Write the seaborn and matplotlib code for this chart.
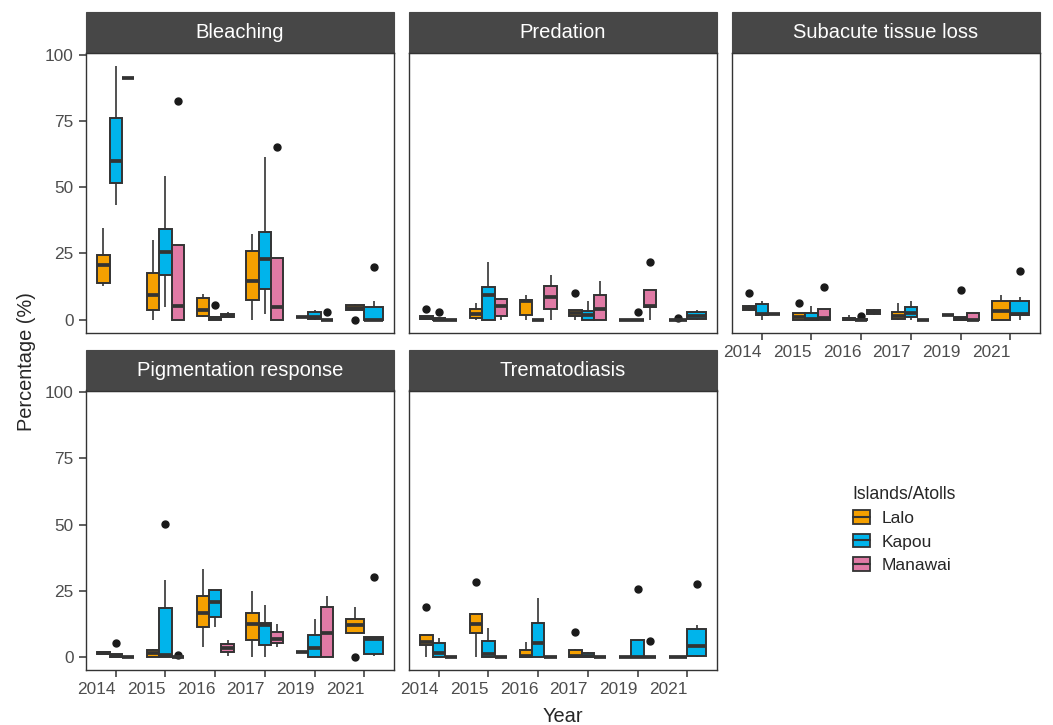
import numpy as np
import pandas as pd
import matplotlib
matplotlib.use('Agg')
import matplotlib.pyplot as plt
import seaborn as sns
from matplotlib.patches import Rectangle, Patch
from matplotlib.lines import Line2D


# Data: (whisker low, Q1, median, Q3, whisker high, outlier)
years = ['2014', '2015', '2016', '2017', '2019', '2021']
islands = ['Lalo', 'Kapou', 'Manawai']
colors = ['#F5A000', '#00B4EB', '#E07AA5']
facets = ['Bleaching', 'Predation', 'Subacute tissue loss',
          'Pigmentation response', 'Trematodiasis']

bleaching = {
    '2014': [(12.9, 13.7, 20.6, 24.6, 34.7, None), (43.3, 51.6, 60.0, 76.2, 95.8, None), (91.3, 91.3, 91.3, 91.3, 91.3, None)],
    '2015': [(0, 3.7, 9.5, 17.8, 30.0, None), (4.7, 16.9, 25.5, 34.1, 54.2, None), (0, 0, 5.3, 28.1, 28.1, 82.5)],
    '2016': [(1.2, 1.6, 3.5, 8.2, 9.7, None), (0, 0, 0.5, 1.2, 1.2, 5.7), (0.8, 1.0, 1.5, 2.2, 3.0, None)],
    '2017': [(0, 7.3, 14.7, 26.0, 32.5, None), (2.0, 11.7, 22.8, 33.2, 61.4, None), (0, 0, 5.0, 23.3, 23.3, 65.2)],
    '2019': [(1.0, 1.0, 1.0, 1.0, 1.0, None), (0, 0.3, 1.2, 3.0, 3.8, None), (0, 0, 0, 0, 0, 2.9)],
    '2021': [(3.8, 3.8, 4.6, 5.5, 6.0, 0.0), (0, 0, 0, 4.7, 7.0, 20.0)],
}
predation = {
    '2014': [(0, 0.3, 0.8, 1.5, 1.5, 4.2), (0, 0, 0, 0.5, 0.5, 3.1), (0, 0, 0, 0, 0, None)],
    '2015': [(0, 0.5, 2.2, 4.1, 6.2, None), (0, 0, 9.2, 12.4, 21.9, None), (0, 1.6, 5.3, 7.8, 8.3, None)],
    '2016': [(0, 1.7, 6.9, 7.4, 9.5, None), (0, 0, 0, 0, 0, None), (0, 4.2, 8.7, 12.8, 16.7, None)],
    '2017': [(0, 1.6, 2.7, 3.5, 3.5, 10.1), (0, 0, 1.7, 3.2, 7.0, None), (0, 0, 4.1, 9.5, 14.8, None)],
    '2019': [(0, 0, 0, 0, 0, None), (0, 0, 0, 0, 0, 3.1), (0, 4.7, 5.3, 11.2, 11.2, 21.8)],
    '2021': [(0, 0, 0, 0, 0, 0.8), (0, 0.3, 1.5, 2.8, 3.8, None)],
}
subacute = {
    '2014': [(3.2, 3.6, 4.4, 5.2, 5.7, 10.1), (0, 1.7, 2.0, 6.1, 7.0, None), (2.0, 2.0, 2.0, 2.0, 2.0, None)],
    '2015': [(0, 0, 1.2, 2.4, 2.4, 6.5), (0, 0, 0.3, 2.5, 5.1, None), (0, 0, 0.8, 4.2, 4.2, 12.4)],
    '2016': [(0, 0, 0.3, 0.8, 1.8, None), (0, 0, 0, 0.3, 0.3, 1.4), (1.8, 2.2, 3.0, 3.8, 4.2, None)],
    '2017': [(0, 0.3, 1.6, 3.0, 6.5, None), (0, 1.1, 2.4, 4.9, 7.0, None), (0, 0, 0, 0, 0, None)],
    '2019': [(1.7, 1.7, 1.7, 1.7, 1.7, None), (0, 0, 0.3, 1.0, 1.0, 11.3), (0, 0, 0, 2.7, 2.7, None)],
    '2021': [(0, 0, 3.4, 7.0, 9.2, None), (0, 1.8, 2.2, 7.0, 8.7, 18.4)],
}
pigmentation = {
    '2014': [(0.8, 1.3, 1.6, 2.0, 2.2, None), (0, 0, 0.3, 1.2, 1.2, 5.3), (0, 0, 0, 0, 0, None)],
    '2015': [(0, 0, 1.5, 2.8, 3.0, None), (0, 0, 1.0, 18.5, 29.2, 50.1), (0, 0, 0, 0, 0, 1.0)],
    '2016': [(4.0, 11.4, 16.8, 23.0, 33.3, None), (11.4, 15.2, 20.9, 25.2, 25.2, None), (0.4, 1.9, 3.5, 5.1, 6.6, None)],
    '2017': [(0, 6.5, 12.4, 16.8, 24.9, None), (0, 4.6, 12.0, 12.8, 19.9, None), (4.0, 5.2, 6.8, 9.7, 12.4, None)],
    '2019': [(1.9, 1.9, 1.9, 1.9, 1.9, None), (0, 0, 3.5, 8.5, 14.3, None), (0, 0, 9.1, 18.9, 23.0, None)],
    '2021': [(9.0, 9.0, 12.0, 14.3, 18.9, 0.0), (0.3, 1.2, 6.8, 7.8, 7.8, 30.1)],
}
trematodiasis = {
    '2014': [(0, 4.7, 5.6, 8.5, 8.5, 19.1), (0, 0, 1.6, 5.2, 7.3, None), (0, 0, 0, 0, 0, None)],
    '2015': [(0, 9.0, 12.7, 16.5, 16.5, 28.4), (0, 0, 1.2, 6.1, 11.2, None), (0, 0, 0, 0, 0, None)],
    '2016': [(0, 0, 0.3, 2.7, 5.6, None), (0, 0, 5.2, 13.1, 22.4, None), (0, 0, 0, 0, 0, None)],
    '2017': [(0, 0, 0.3, 2.7, 3.2, 9.4), (0, 0, 0.3, 1.5, 2.0, None), (0, 0, 0, 0, 0, None)],
    '2019': [(0, 0, 0, 0, 0, None), (0, 0, 0, 6.6, 6.6, 25.9), (0, 0, 0, 0, 0, 6.2)],
    '2021': [(0, 0, 0, 0, 0, None), (0, 0.6, 4.2, 10.6, 12.1, 27.6)],
}
facet_data = [bleaching, predation, subacute, pigmentation, trematodiasis]


# turn each five-number summary into 9 observations with the same box stats
def to_obs(lo, q1, med, q3, hi, out):
    low = [out, lo] if out is not None and out < q1 else [lo, (lo + q1) / 2]
    high = [hi, out] if out is not None and out > q3 else [(q3 + hi) / 2, hi]
    return low + [q1, (q1 + med) / 2, med, (med + q3) / 2, q3] + high


rows = []
for name, table in zip(facets, facet_data):
    for yr in years:
        for isl, st in zip(islands, table[yr]):
            for v in to_obs(*st):
                rows.append((name, yr, isl, v))
df = pd.DataFrame(rows, columns=['facet', 'Year', 'Island', 'value'])


sns.set_style('white')
plt.rcParams['font.family'] = 'Liberation Sans'

edge = '#333333'
box_kw = dict(x='Year', y='value', hue='Island', order=years, palette=colors,
              width=0.75, gap=0, dodge=True, saturation=1, linecolor=edge,
              linewidth=1.4, fliersize=5, legend=False, showcaps=False,
              medianprops=dict(linewidth=2.7, color=edge),
              whiskerprops=dict(linewidth=1.2, color=edge),
              flierprops=dict(marker='o', markerfacecolor='#1a1a1a',
                              markeredgecolor='#1a1a1a'))

fig, axes = plt.subplots(2, 3, figsize=(10.53, 7.25), dpi=100)
fig.subplots_adjust(left=86/1053, right=1040/1053, top=1-53/725,
                    bottom=1-670/725, wspace=15/308, hspace=58/279.5)

for i, name in enumerate(facets):
    ax = axes.flat[i]
    sub = df[df['facet'] == name]
    sns.boxplot(data=sub[sub['Year'] != '2021'], hue_order=islands, ax=ax, **box_kw)
    sns.boxplot(data=sub[sub['Year'] == '2021'], hue_order=islands[:2], ax=ax, **box_kw)
    ax.set_xlim(-0.6, 5.6)
    ax.set_ylim(-4.8, 100.6)
    ax.set_xlabel('')
    ax.set_ylabel('')
    ax.set_yticks([0, 25, 50, 75, 100])
    ax.tick_params(bottom=True, left=True, length=5, width=1.1, color=edge,
                   labelsize=12.4, labelcolor='#4D4D4D', pad=4)
    if i % 3 != 0:
        ax.tick_params(axis='y', left=False, labelleft=False)
    if i in (0, 1):
        ax.tick_params(axis='x', bottom=False, labelbottom=False)
    else:
        ax.set_xticks(range(len(years)))
        ax.set_xticklabels(years, ha='right')
    for s in ax.spines.values():
        s.set_visible(True)
        s.set_color(edge)
        s.set_linewidth(1.0)
    # facet strip
    ax.add_patch(Rectangle((0, 1), 1, 41/280, transform=ax.transAxes,
                           facecolor='#474747', edgecolor='#474747',
                           clip_on=False, lw=0.8))
    ax.text(0.5, 1 + 20.5/280, name, transform=ax.transAxes, ha='center',
            va='center', color='white', fontsize=14.5)

axes.flat[5].axis('off')

fig.text(26/1053, 1-362/725, 'Percentage (%)', rotation=90, ha='center',
         va='center', fontsize=14.4)
fig.text(563/1053, 1-716/725, 'Year', ha='center', va='center', fontsize=14.4)

handles = [(Patch(facecolor=c, edgecolor=edge, lw=1.3),
            Line2D([], [], color=edge, lw=1.5)) for c in colors]
fig.legend(handles, islands, title='Islands/Atolls', loc='upper left',
           bbox_to_anchor=(837/1053, 1-470/725), frameon=False,
           fontsize=12.5, title_fontsize=12.7, handlelength=1.0,
           handleheight=0.8, handletextpad=0.65, labelspacing=0.45,
           alignment='left')

plt.savefig('out.png', dpi=100)
